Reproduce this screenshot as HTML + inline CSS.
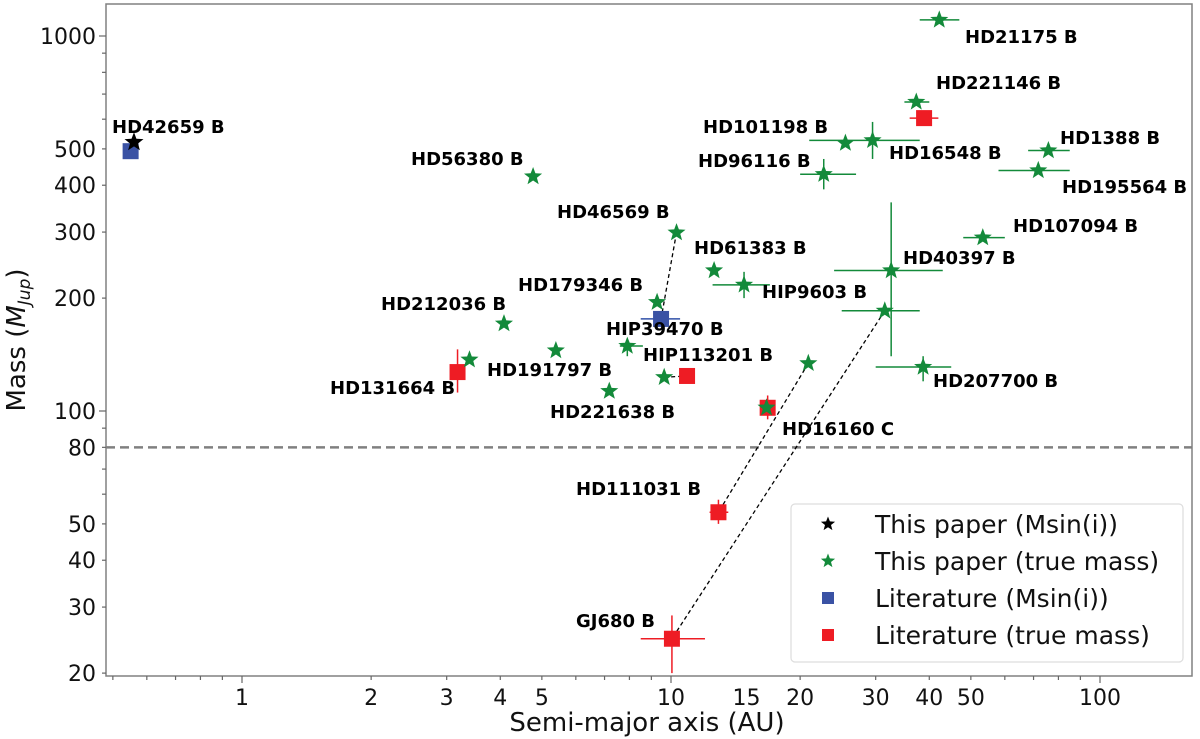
<!DOCTYPE html>
<html><head><meta charset="utf-8">
<style>
html,body{margin:0;padding:0;background:#fff;}
svg{display:block;font-family:"DejaVu Sans","Liberation Sans",sans-serif;}
.lbl{font-weight:bold;font-size:18px;fill:#000;}
.tick{font-size:22px;fill:#111;}
</style></head>
<body>
<svg id="chart" width="1200" height="739" viewBox="0 0 1200 739" xmlns="http://www.w3.org/2000/svg"></svg>
<script>
// ---- data ----
const greenNames = ["HD21175 B","HD221146 B","HD101198 B","HD16548 B","HD96116 B","HD1388 B","HD195564 B","HD107094 B","HD40397 B","HD40397-companion","HD207700 B","HIP9603 B","HD61383 B","HD46569 B","HD56380 B","HD179346 B","HD212036 B","HD191797 B","HIP39470 B","HD221638 B","HIP113201 B","HD131664 B","HD16160 C-star","HD16160 C-inner"];
const greenA = [42.2,37.3,25.5,29.5,22.7,75.8,71.8,53.3,32.6,31.5,38.7,14.8,12.6,10.3,4.77,9.28,4.08,5.39,7.91,7.18,9.64,3.39,20.9,16.7];
const greenM = [1104,667,518,527,428,495,438,290,237,185,131,217,237,299,422,195,171,145,149,113,123,137,134,102];
const greenAerr = [[38,47],[35,40],[25.5,25.5],[21,38],[20,27],[68,85],[58,85],[48,60],[24,43],[25,38],[30,45],[12.5,17],[12.6,12.6],[10.3,10.3],[4.77,4.77],[9.28,9.28],[4.08,4.08],[5.39,5.39],[7.6,8.6],[7.18,7.18],[9.64,9.64],[3.39,3.39],[20.9,20.9],[16.7,16.7]];
const greenMerr = [[1104,1104],[667,667],[518,518],[470,590],[390,470],[495,495],[438,438],[290,290],[140,360],[185,185],[120,140],[200,235],[237,237],[299,299],[422,422],[195,195],[171,171],[145,145],[140,155],[113,113],[123,123],[137,137],[134,134],[102,102]];
const blackA = [0.56];
const blackM = [521];
const blueA = [0.55, 9.48];
const blueM = [493, 176];
const blueAerr = [[0.55,0.55],[8.5,10.5]];
const redNames = ["HD221146 B","HD131664 B","HIP113201 B","HD16160 C","HD111031 B","GJ680 B"];
const redA = [38.9,3.18,10.9,16.8,12.9,10.05];
const redM = [604,127,124,102,53.7,24.7];
const redAerr = [[36,42],[3.18,3.18],[10.9,10.9],[16.8,16.8],[12.3,13.6],[8.5,12]];
const redMerr = [[604,604],[112,146],[124,124],[95,110],[50,58],[20,28.5]];
// dashed links: [aFrom,mFrom,aTo,mTo]
const links = [[10.3,299,9.48,176],[9.64,123,10.9,124],[20.9,134,12.9,53.7],[31.5,185,10.05,24.7]];
const labelText = ["HD21175 B","HD221146 B","HD42659 B","HD101198 B","HD1388 B","HD16548 B","HD56380 B","HD96116 B","HD195564 B","HD46569 B","HD107094 B","HD61383 B","HD40397 B","HD179346 B","HIP9603 B","HD212036 B","HIP39470 B","HIP113201 B","HD191797 B","HD131664 B","HD207700 B","HD221638 B","HD16160 C","HD111031 B","GJ680 B"];
// label anchor (left, baseline) in screen px
const labelX = [965,936,112,703,1060,889,411,698,1062,557,1013,694,903,518,762,381,606,643,487,330,933,550,782,576,576];
const labelY = [43,89,133,133,144,159,165,167,193,218,232,254,264,291,298,310,335,361,376,394,387,418,435,495,627];
const xTicks = [1,2,3,4,5,10,15,20,30,40,50,100];
const yTicks = [20,30,40,50,80,100,200,300,400,500,1000];

// ---- axes ----
const L=106,R=1192,T=4,B=676;
const X = a => 242 + 429*Math.log10(a);
const Y = m => 411 - 375*Math.log10(m/100);
const svg=document.getElementById('chart');
const NS='http://www.w3.org/2000/svg';
function mk(tag,attrs,parent){const e=document.createElementNS(NS,tag);for(const k in attrs)e.setAttribute(k,attrs[k]);(parent||svg).appendChild(e);return e;}

const clip=mk('clipPath',{id:'pc'});mk('rect',{x:L,y:T,width:R-L,height:B-T},clip);
const plot=mk('g',{'clip-path':'url(#pc)'});



const hl=mk('line',{x1:L,x2:R,y1:Y(80),y2:Y(80),stroke:'#808080','stroke-width':2.5,'stroke-dasharray':'9,5'},plot);



links.forEach(l=>{const e=mk('line',{x1:X(l[0]),y1:Y(l[1]),x2:X(l[2]),y2:Y(l[3]),stroke:'#000','stroke-width':1.3,'stroke-dasharray':'4,3'},plot);

});

function star(cx,cy,r,fill){let p=[];for(let i=0;i<10;i++){const rr=i%2?r*0.42:r;const ang=-Math.PI/2+i*Math.PI/5;p.push((cx+rr*Math.cos(ang)).toFixed(1)+','+(cy+rr*Math.sin(ang)).toFixed(1));}return mk('polygon',{points:p.join(' '),fill:fill},plot);}
function errs(a,m,ae,me,col){
 if(ae[0]!==ae[1]){const e=mk('line',{x1:X(ae[0]),x2:X(ae[1]),y1:Y(m),y2:Y(m),stroke:col,'stroke-width':1.5},plot);}
 if(me&&me[0]!==me[1]){const e=mk('line',{x1:X(a),x2:X(a),y1:Y(me[0]),y2:Y(me[1]),stroke:col,'stroke-width':1.5},plot);}
}
redA.forEach((a,i)=>{errs(a,redM[i],redAerr[i],redMerr[i],'#ee1c24');const s=mk('rect',{x:X(a)-8,y:Y(redM[i])-8,width:16,height:16,fill:'#ee1c24'},plot);

});
blueA.forEach((a,i)=>{errs(a,blueM[i],blueAerr[i],null,'#3050a8');const s=mk('rect',{x:X(a)-8,y:Y(blueM[i])-8,width:16,height:16,fill:'#3a52a4'},plot);

});
greenA.forEach((a,i)=>{errs(a,greenM[i],greenAerr[i],greenMerr[i],'#138a3a');const s=star(X(a),Y(greenM[i]),9.5,'#138a3a');

});
blackA.forEach((a,i)=>{const s=star(X(a),Y(blackM[i]),10,'#000');

});

labelText.forEach((t,i)=>{const e=mk('text',{x:labelX[i],y:labelY[i],class:'lbl'});e.textContent=t;

});

const fr=mk('rect',{x:L,y:T,width:R-L,height:B-T,fill:'none',stroke:'#808080','stroke-width':1.5});



const xg=mk('g',{});
for(let d=-1;d<=2;d++){for(let k=1;k<10;k++){const v=k*Math.pow(10,d);const px=X(v);if(px<L||px>R)continue;const major=(k===1);mk('line',{x1:px,x2:px,y1:B,y2:B+(major?7:4),stroke:'#666','stroke-width':1.2},xg);}}
xTicks.forEach(v=>{const e=mk('text',{x:X(v),y:B+29,'text-anchor':'middle',class:'tick'},xg);e.textContent=v;});
const xt=mk('text',{x:(L+R)/2-2,y:731,'text-anchor':'middle','font-size':'26px',fill:'#111'});xt.textContent='Semi-major axis (AU)';


const yg=mk('g',{});
for(let d=1;d<=3;d++){for(let k=1;k<10;k++){const v=k*Math.pow(10,d);const py=Y(v);if(py<T||py>B)continue;const major=(k===1);mk('line',{x1:L,x2:L-(major?7:4),y1:py,y2:py,stroke:'#666','stroke-width':1.2},yg);}}
yTicks.forEach(v=>{const e=mk('text',{x:L-10,y:Y(v)+8,'text-anchor':'end',class:'tick'},yg);e.textContent=v;});
const yt=mk('text',{transform:'translate(25,340) rotate(-90)','text-anchor':'middle','font-size':'26px',fill:'#111'});
yt.innerHTML='Mass (<tspan font-style="italic">M</tspan><tspan font-style="italic" font-size="17px" dy="5">Jup</tspan><tspan dy="-5">)</tspan>';


const lg=mk('g',{});
mk('rect',{x:791,y:504,width:392,height:158,rx:4,fill:'#fff',stroke:'#ddd','stroke-width':1.2},lg);
const legT=['This paper (Msin(i))','This paper (true mass)','Literature (Msin(i))','Literature (true mass)'];
legT.forEach((t,i)=>{const cy=524+i*37;
 let m;
 if(i<2){let p=[];for(let j=0;j<10;j++){const rr=j%2?3.2:7.5;const ang=-Math.PI/2+j*Math.PI/5;p.push((828+rr*Math.cos(ang)).toFixed(1)+','+(cy+rr*Math.sin(ang)).toFixed(1));}m=mk('polygon',{points:p.join(' '),fill:i?'#138a3a':'#000'},lg);}
 else m=mk('rect',{x:822,y:cy-6,width:12,height:12,fill:i===2?'#3a52a4':'#ee1c24'},lg);
 
 const e=mk('text',{x:875,y:cy+9,'font-size':'25px',fill:'#111'},lg);e.textContent=t;
 });
</script>
</body></html>
